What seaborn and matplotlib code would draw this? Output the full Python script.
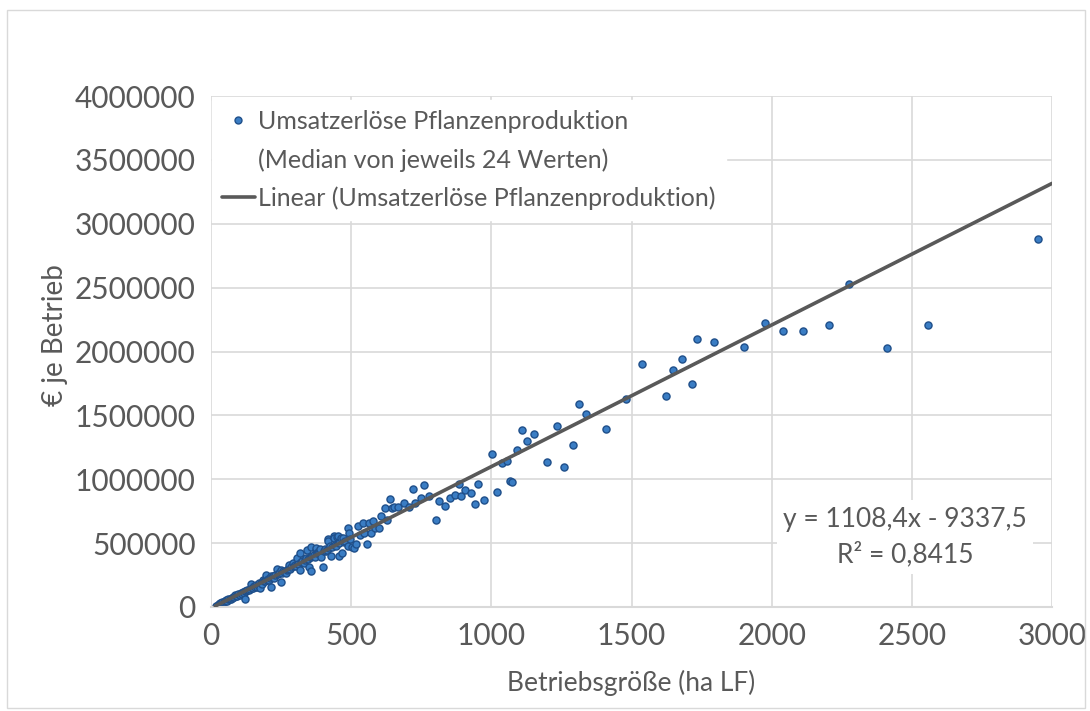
import matplotlib
matplotlib.use("Agg")
import matplotlib.pyplot as plt
import seaborn as sns
import numpy as np
import pandas as pd
from matplotlib.lines import Line2D
from matplotlib.patches import Rectangle

# Betriebsgröße (ha LF) und Umsatzerlöse (in Tausend €)
flaeche_ha = [18, 24, 28, 32, 36, 40, 46, 50, 55, 58, 62, 66, 70, 74, 78, 82, 86, 90, 94, 98,
              102, 106, 110, 114, 117, 120, 122, 126, 130, 134, 138, 141, 145, 149, 153, 156, 160, 163, 166, 170,
              174, 178, 182, 186, 190, 194, 197, 200, 204, 208, 212, 215, 215, 218, 222, 226, 230, 234, 238, 242,
              248, 250, 254, 258, 262, 268, 272, 276, 279, 282, 286, 291, 295, 300, 304, 307, 312, 316, 319, 322,
              326, 330, 334, 338, 343, 346, 349, 352, 355, 355, 358, 362, 366, 370, 373, 373, 378, 382, 386, 390,
              394, 399, 402, 406, 411, 415, 418, 419, 422, 426, 427, 432, 437, 438, 442, 446, 450, 452, 456, 457,
              462, 468, 471, 474, 478, 487, 489, 491, 495, 504, 511, 517, 524, 530, 541, 546, 555, 563, 572, 577,
              586, 599, 608, 620, 629, 638, 645, 654, 668, 689, 705, 721, 727, 748, 761, 777, 801, 814, 834, 851,
              871, 885, 892, 906, 929, 940, 954, 974, 1004, 1020, 1037, 1057, 1068, 1075, 1090, 1108, 1128, 1153, 1200, 1233,
              1259, 1292, 1312, 1338, 1409, 1481, 1536, 1622, 1649, 1680, 1716, 1734, 1796, 1901, 1978, 2042, 2111, 2205, 2277, 2413,
              2559, 2949]
umsatz_tsd = [8, 14, 20, 28, 30, 38, 42, 45, 55, 50, 62, 60, 62, 72, 80, 78, 92, 88, 86, 100,
              96, 110, 104, 118, 112, 66, 128, 122, 135, 130, 140, 177, 150, 148, 164, 158, 170, 155, 176, 185,
              146, 190, 180, 211, 200, 205, 250, 210, 222, 215, 230, 242, 154, 235, 240, 225, 250, 299, 258, 265,
              195, 289, 270, 280, 275, 263, 292, 300, 328, 295, 310, 346, 320, 330, 318, 380, 340, 289, 424, 350,
              362, 345, 370, 382, 448, 375, 315, 395, 281, 393, 466, 400, 410, 395, 445, 459, 420, 430, 427, 451,
              393, 315, 440, 455, 438, 445, 534, 518, 460, 477, 401, 470, 555, 537, 485, 480, 549, 557, 400, 500,
              537, 422, 537, 510, 520, 477, 617, 576, 530, 471, 458, 495, 633, 560, 654, 580, 495, 659, 581, 672,
              617, 617, 709, 776, 682, 844, 776, 784, 779, 815, 781, 927, 813, 854, 956, 870, 682, 826, 791, 854,
              880, 959, 870, 917, 893, 807, 966, 841, 1195, 904, 1130, 1141, 987, 982, 1227, 1386, 1297, 1357, 1133, 1414,
              1099, 1268, 1589, 1508, 1391, 1625, 1901, 1649, 1857, 1940, 1745, 2094, 2071, 2034, 2227, 2159, 2159, 2211, 2531, 2031,
              2206, 2883]

# Lineare Trendlinie aus der Excel-Gleichung
steigung = 1108.4
achsenabschnitt = -9337.5
trend_x = [15, 3000]

x_ticks = [0, 500, 1000, 1500, 2000, 2500, 3000]
y_ticks = [0, 500000, 1000000, 1500000, 2000000, 2500000, 3000000, 3500000, 4000000]

grau = "#595959"
gitter = "#d9d9d9"

sns.set_theme(style="white")
plt.rcParams['font.family'] = ['Lato', 'DejaVu Sans']

df = pd.DataFrame({"ha": flaeche_ha, "euro": np.array(umsatz_tsd) * 1000})
trend = pd.DataFrame({"ha": trend_x, "euro": [steigung * v + achsenabschnitt for v in trend_x]})

fig = plt.figure(figsize=(10.9, 7.11), dpi=100)
fig.patches.append(Rectangle((7 / 1090, 3 / 711), 1078 / 1090, 698 / 711, transform=fig.transFigure,
                             fill=False, edgecolor=gitter, linewidth=1))
ax = fig.add_axes([211 / 1090, 1 - 607 / 711, 841 / 1090, 511 / 711])

sns.lineplot(data=trend, x="ha", y="euro", ax=ax, color=grau, linewidth=2.6, zorder=3)
sns.scatterplot(data=df, x="ha", y="euro", ax=ax, s=26, color="#3a7dc4",
                edgecolor="#1f4f8a", linewidth=1.0, zorder=2)

ax.set_xlim(0, 3000)
ax.set_ylim(0, 4000000)
ax.set_xticks(x_ticks)
ax.set_xticklabels([str(v) for v in x_ticks])
ax.set_yticks(y_ticks)
ax.set_yticklabels([str(v) for v in y_ticks])
ax.tick_params(axis="both", length=0, labelsize=21.5, labelcolor=grau)
ax.tick_params(axis="y", pad=11)
ax.tick_params(axis="x", pad=11)
ax.grid(True, color=gitter, linewidth=1.2)
ax.set_axisbelow(True)
for name, sp in ax.spines.items():
    sp.set_visible(name == "bottom")
ax.spines["bottom"].set_color(gitter)
ax.spines["bottom"].set_linewidth(1.5)

ax.set_xlabel("Betriebsgröße (ha LF)", fontsize=19, color=grau)
ax.xaxis.set_label_coords(0.5, (607 - 670) / 511)
ax.set_ylabel("€ je Betrieb", fontsize=20, color=grau)
ax.yaxis.set_label_coords((68 - 211) / 841, (607 - 335) / 511)

handles = [
    Line2D([], [], linestyle="none", marker="o", markersize=5, markerfacecolor="#3a7dc4",
           markeredgecolor="#1f4f8a", markeredgewidth=1.0),
    Line2D([], [], linestyle="none"),
    Line2D([], [], color=grau, linewidth=2.6),
]
labels = ["Umsatzerlöse Pflanzenproduktion",
          "(Median von jeweils 24 Werten)",
          "Linear (Umsatzerlöse Pflanzenproduktion)"]
leg = ax.legend(handles, labels, loc="upper left", bbox_to_anchor=(212 / 1090, 1 - 100 / 711),
                bbox_transform=fig.transFigure, borderaxespad=0, fontsize=18, labelcolor=grau,
                frameon=True, framealpha=1, edgecolor="white", facecolor="white", fancybox=False,
                handlelength=1.3, handletextpad=0.15, labelspacing=0.6, borderpad=0.4)

ax.text((905 - 211) / 841, (607 - 537) / 511, "y = 1108,4x - 9337,5\nR² = 0,8415",
        transform=ax.transAxes, ha="center", va="center", multialignment="center",
        fontsize=19, color=grau, linespacing=1.45,
        bbox=dict(boxstyle="square,pad=0.25", facecolor="white", edgecolor="none"))

fig.savefig("out.png", dpi=100)
